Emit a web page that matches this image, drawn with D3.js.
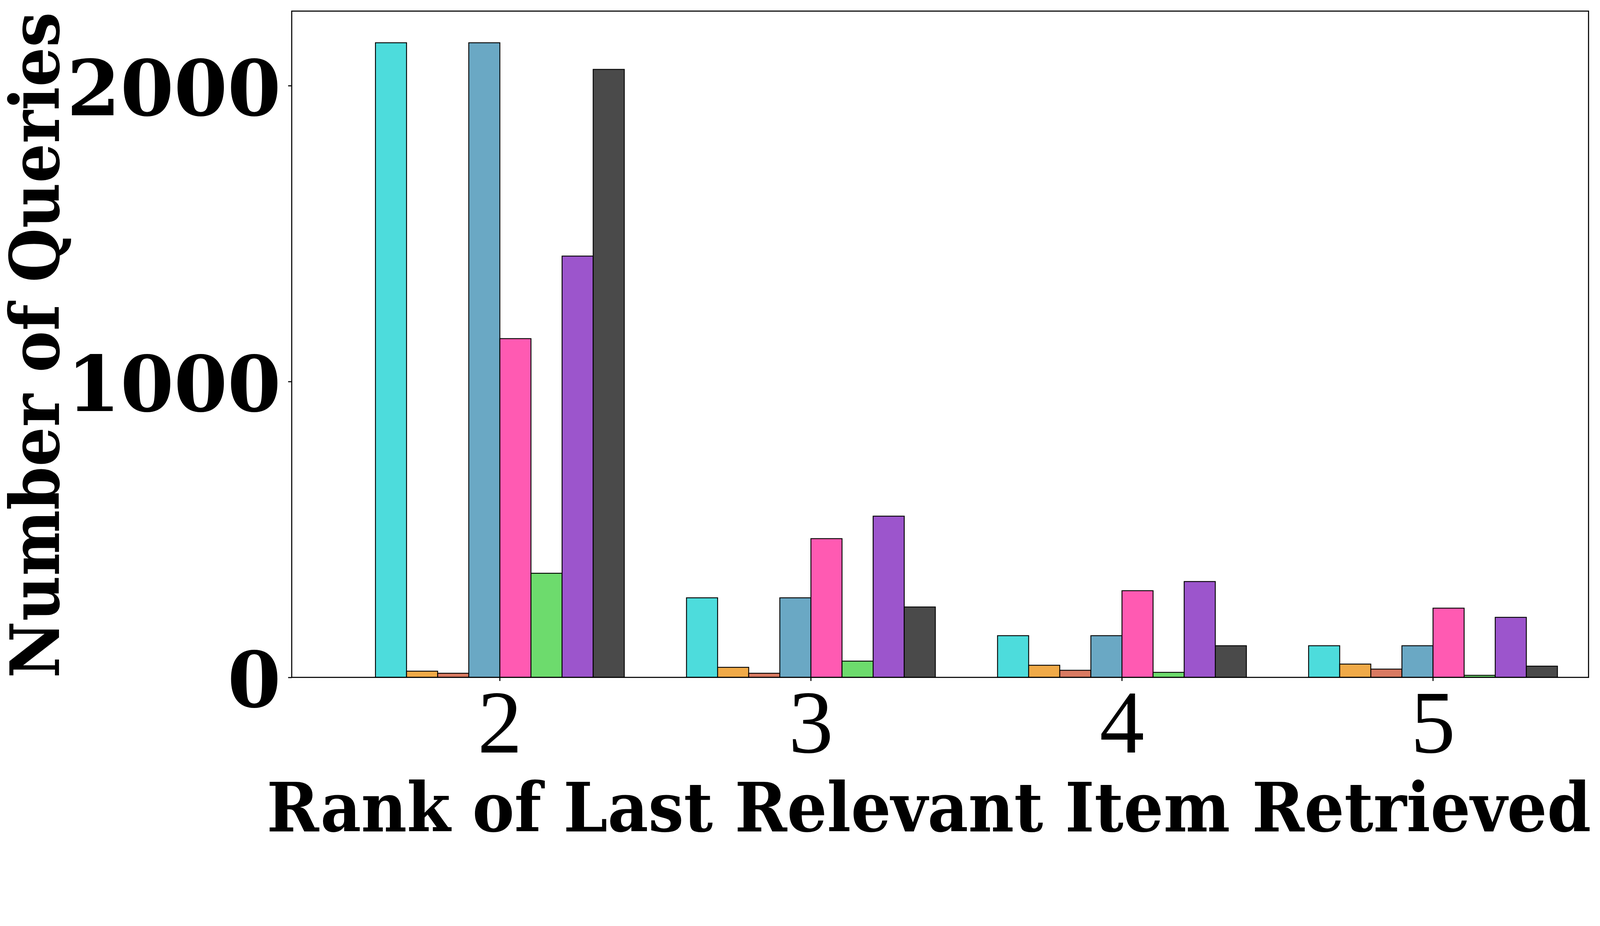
<!DOCTYPE html>
<html><head><meta charset="utf-8">
<script src="https://cdn.jsdelivr.net/npm/d3@7"></script>
<style>html,body{margin:0;padding:0;background:#fff;overflow:hidden}svg{display:block}</style>
</head><body><div id="chart"></div>
<script>
var ranks = ["2", "3", "4", "5"];
var seriesNames = ["s1", "s2", "s3", "s4", "s5", "s6", "s7", "s8"];
var colors = ["#4ddcdc", "#f0aa48", "#d97a62", "#6aa8c4", "#ff5ab2", "#6ddb6d", "#9c55cc", "#4a4a4a"];
var values = [
  [2145, 21, 14, 2145, 1145, 352, 1424, 2055],
  [269, 34, 14, 269, 469, 55, 545, 238],
  [141, 41, 24, 141, 293, 17, 324, 107],
  [107, 45, 28, 107, 234, 7, 203, 38]
];
var yTicks = [0, 1000, 2000];

var W = 4470, H = 2370;
var margin = {top: 31, right: 32, bottom: 478, left: 815}
  , width = W - margin.left - margin.right
  , height = H - margin.top - margin.bottom;

var svg = d3.select("#chart").append("svg")
    .attr("viewBox", "0 0 " + W + " " + H)
    .attr("preserveAspectRatio", "xMinYMin meet")
    .style("width", "100vw").style("height", "100vh")
  .append("g")
    .attr("transform", "translate(" + margin.left + "," + margin.top + ")");

var yScale = d3.scaleLinear().domain([0, 2252]).range([height, 0]);
// group centers at 464,769,1074,1378 (display) -> band step of 305
var x0 = d3.scaleBand().domain(ranks).range([147, 147 + 4 * 869]).paddingInner(0.2).paddingOuter(0.1);
var x1 = d3.scaleBand().domain(seriesNames).range([0, x0.bandwidth()]);

var groups = svg.selectAll(".grp").data(values).enter().append("g")
    .attr("transform", function(d, i) { return "translate(" + x0(ranks[i]) + ",0)"; });
groups.selectAll("rect").data(function(d) { return d; }).enter().append("rect")
    .attr("x", function(d, j) { return x1(seriesNames[j]); })
    .attr("y", function(d) { return yScale(d); })
    .attr("width", x1.bandwidth())
    .attr("height", function(d) { return height - yScale(d); })
    .attr("fill", function(d, j) { return colors[j]; })
    .attr("stroke", "#000").attr("stroke-width", 2.5);

svg.append("rect").attr("width", width).attr("height", height)
    .attr("fill", "none").attr("stroke", "#000").attr("stroke-width", 3);

var ya = svg.append("g").call(d3.axisLeft(yScale).tickValues(yTicks).tickFormat(d3.format("d")).tickSize(10).tickPadding(20));
ya.select(".domain").remove();
ya.selectAll("line").attr("stroke-width", 3);
ya.selectAll("text").style("font-family", "'DejaVu Serif', serif").style("font-weight", "bold")
    .style("font-size", "215px").attr("dy", "0.38em");

var xa = svg.append("g").attr("transform", "translate(0," + height + ")")
    .call(d3.axisBottom(x0).tickSize(10).tickPadding(25));
xa.select(".domain").remove();
xa.selectAll("line").attr("stroke-width", 3);
xa.selectAll("text").style("font-family", "'Liberation Serif', serif")
    .style("font-size", "250px").attr("dy", "0.7em");

svg.append("text")
    .attr("x", -70).attr("y", height + 430)
    .attr("textLength", 3700).attr("lengthAdjust", "spacingAndGlyphs")
    .style("font-family", "'DejaVu Serif', serif").style("font-weight", "bold")
    .style("font-size", "190px")
    .text("Rank of Last Relevant Item Retrieved");

svg.append("text")
    .attr("transform", "rotate(-90)")
    .attr("x", -height - 2).attr("y", -650)
    .attr("textLength", 1860).attr("lengthAdjust", "spacingAndGlyphs")
    .style("font-family", "'DejaVu Serif', serif").style("font-weight", "bold")
    .style("font-size", "190px")
    .text("Number of Queries");
</script></body></html>
